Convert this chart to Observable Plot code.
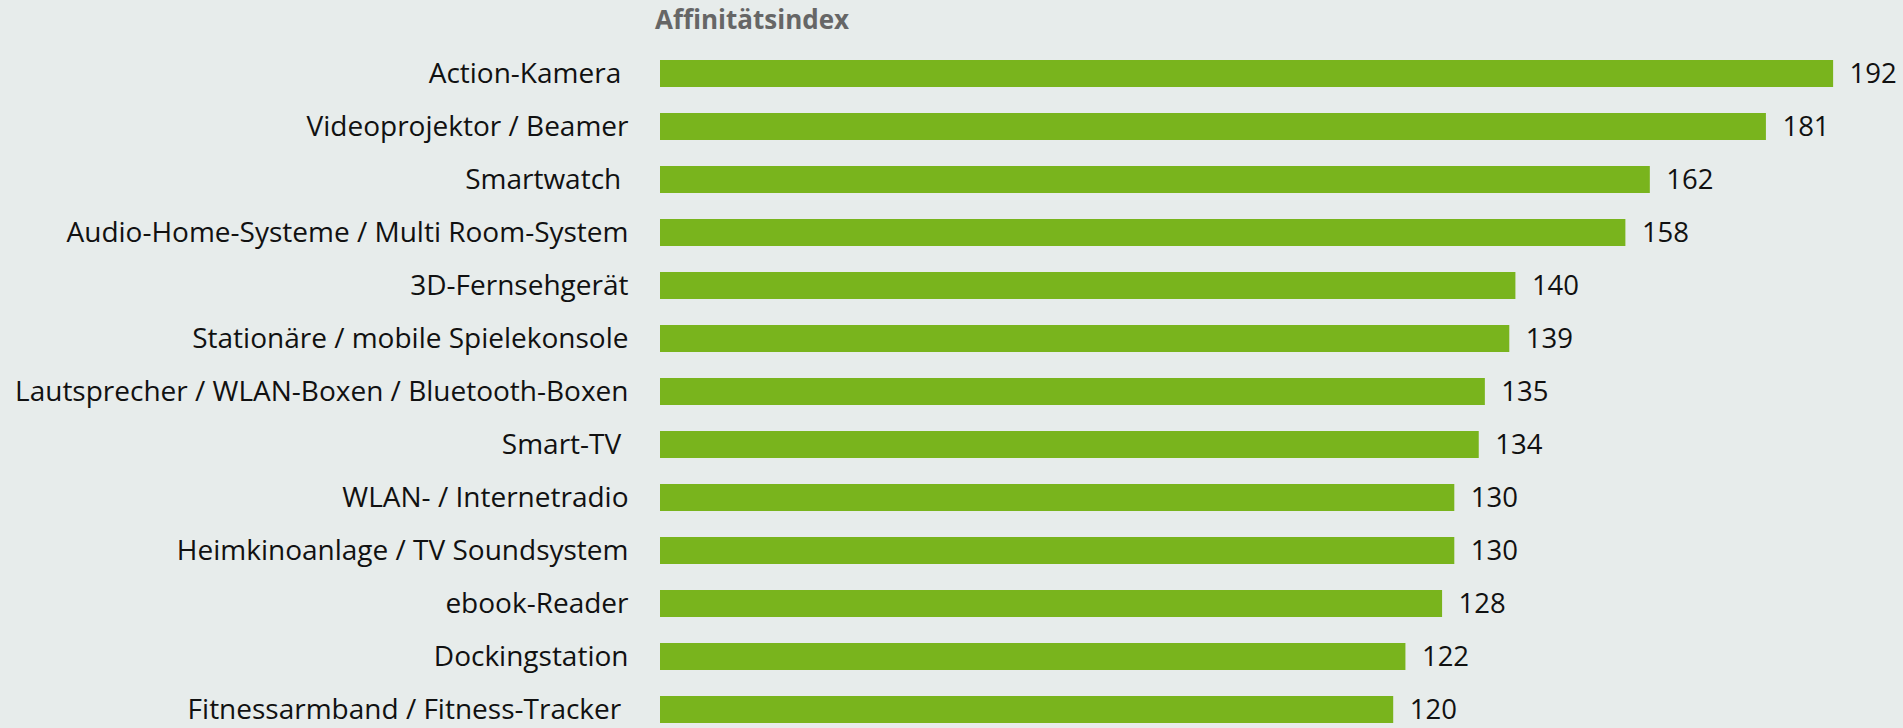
<!DOCTYPE html>
<html>
<head>
<meta charset="utf-8">
<script src="https://cdn.jsdelivr.net/npm/d3@7"></script>
<script src="https://cdn.jsdelivr.net/npm/@observablehq/plot@0.6"></script>
<style>
  html, body { margin: 0; padding: 0; background: #e7eceb; }
  #title { height: 36px; line-height: 38px; padding-left: 655px; font-family: "Open Sans", sans-serif; font-weight: 700; font-size: 26px; color: #666666; white-space: nowrap; }
  svg text { white-space: pre; }
</style>
</head>
<body>
<div id="title">Affinitätsindex</div>
<div id="chart"></div>
<script>
const categories = [
  "Action-Kamera ",
  "Videoprojektor / Beamer",
  "Smartwatch ",
  "Audio-Home-Systeme / Multi Room-System",
  "3D-Fernsehgerät",
  "Stationäre / mobile Spielekonsole",
  "Lautsprecher / WLAN-Boxen / Bluetooth-Boxen",
  "Smart-TV ",
  "WLAN- / Internetradio",
  "Heimkinoanlage / TV Soundsystem",
  "ebook-Reader",
  "Dockingstation",
  "Fitnessarmband / Fitness-Tracker "
];
const values = [192, 181, 162, 158, 140, 139, 135, 134, 130, 130, 128, 122, 120];

const data = categories.map((c, i) => ({category: c, value: values[i]}));

const chart = Plot.plot({
  width: 1903,
  height: 692,
  marginLeft: 660,
  marginRight: 21,
  marginTop: 21,
  marginBottom: 2,
  style: {fontFamily: "'Open Sans', sans-serif", background: "transparent", color: "#111"},
  x: {domain: [0, 200], axis: null},
  y: {domain: categories, paddingInner: 0.5, paddingOuter: 0, label: null},
  marks: [
    Plot.barX(data, {x: "value", y: "category", fill: "#79b41d"}),
    Plot.text(data, {x: "value", y: "category", text: d => String(d.value), textAnchor: "start", dx: 16, fontSize: 27.5, fill: "#111"}),
    Plot.axisY({tickSize: 0, tickPadding: 32, fontSize: 28, label: null, fill: "#111"})
  ]
});
document.getElementById("chart").appendChild(chart);
</script>
</body>
</html>
